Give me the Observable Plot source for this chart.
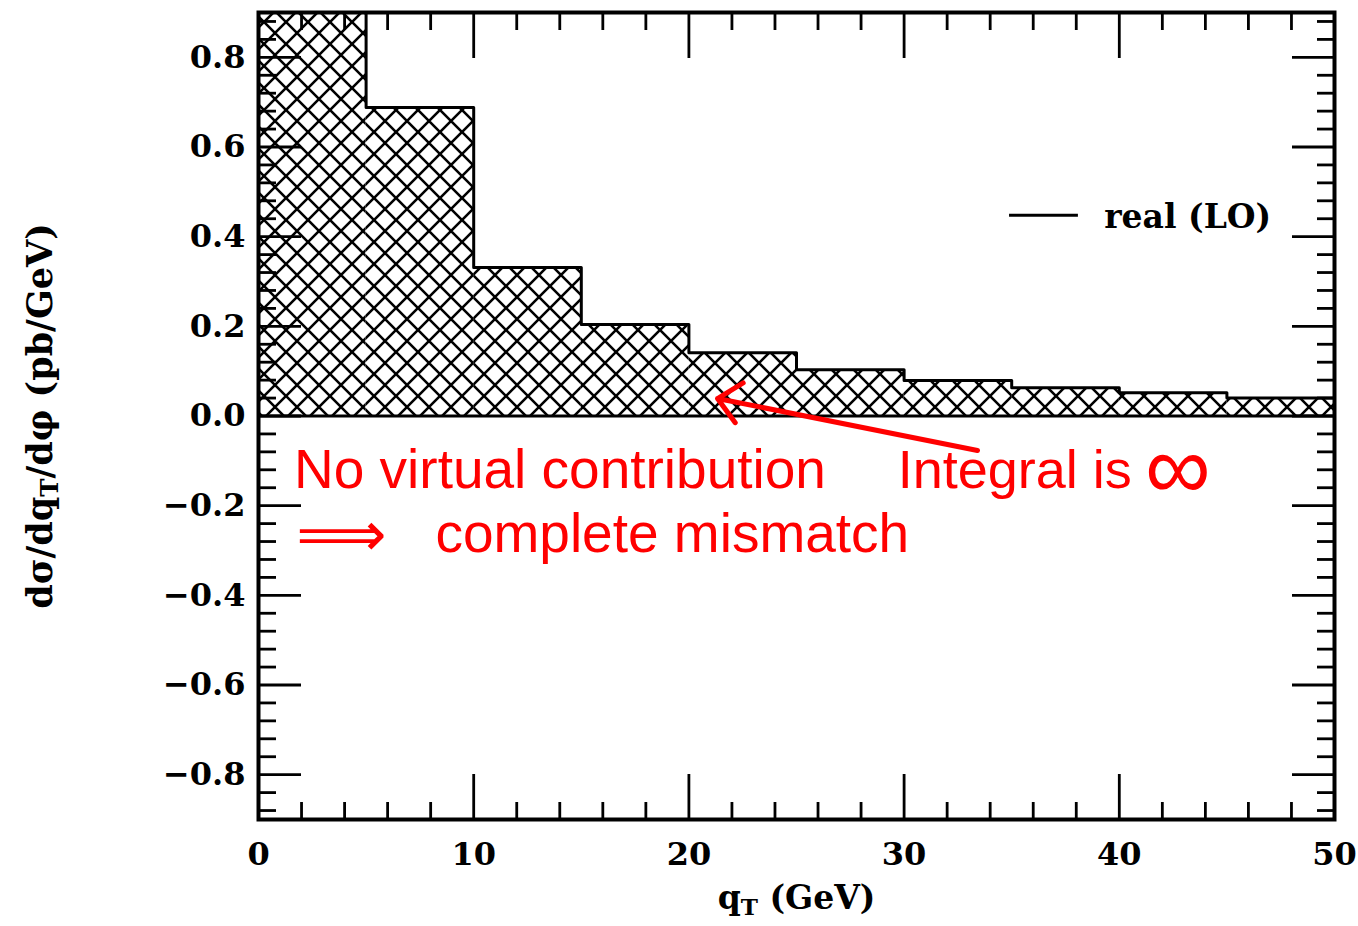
<!DOCTYPE html>
<html><head><meta charset="utf-8">
<script src="https://cdn.jsdelivr.net/npm/d3@7"></script>
<script src="https://cdn.jsdelivr.net/npm/@observablehq/plot@0.6"></script>
<style>html,body{margin:0;padding:0;background:#fff;} #chart svg{display:block}</style>
</head><body><div id="chart"></div>
<script>
// ---- data ----
const binStart = [0, 5, 10, 15, 20, 25, 30, 35, 40, 45];
const binWidth = 5;
const realLO = [1.10, 0.688, 0.331, 0.204, 0.141, 0.103, 0.079, 0.063, 0.052, 0.040];
const xMajorTicks = [0, 10, 20, 30, 40, 50];
const yMajorTicks = [-0.8, -0.6, -0.4, -0.2, 0.0, 0.2, 0.4, 0.6, 0.8];
const xMinorTicks = d3.range(0, 26).map(k => k * 2).filter(v => v % 10 !== 0);
const yMinorTicks = d3.range(-22, 23).filter(k => k % 5 !== 0).map(k => +(k * 0.04).toFixed(2));
const legendLabel = "real (LO)";
const xLabel = "qT (GeV)";
const yLabel = "dσ/dqT/dφ (pb/GeV)";
const noteLines = ["No virtual contribution", "Integral is", "∞", "⟹", "complete mismatch"];

const bins = binStart.map((x, i) => ({x1: x, x2: x + binWidth, y0: 0, y: realLO[i]}));
// step outline: each bin's top, closed by the right edge of the last bin
const outline = bins.map(b => ({x: b.x1, y: b.y})).concat([{x: bins[bins.length - 1].x2, y: bins[bins.length - 1].y}]);

const serif = "'DejaVu Serif', serif";
const sans = "'Liberation Sans', Arial, Helvetica, sans-serif";
const math = "'DejaVu Sans', sans-serif";
const red = "#ff0000";

const notes = [
  {x: 1.65, y: -0.122, text: noteLines[0], size: 55, font: sans, weight: 400},
  {x: 29.7, y: -0.122, text: noteLines[1], size: 54, font: sans, weight: 400},
  {x: 41.2, y: -0.119, text: noteLines[2], size: 92, font: math, weight: 200},
  {x: 1.75, y: -0.268, text: noteLines[3], size: 63, font: math, weight: 400},
  {x: 8.22, y: -0.264, text: noteLines[4], size: 55, font: sans, weight: 400}
];

const tickStyle = {tickFormat: () => "", label: null, strokeWidth: 2.8};

const chart = Plot.plot({
  width: 1358, height: 926,
  marginLeft: 258, marginRight: 24, marginTop: 12, marginBottom: 107,
  x: {domain: [0, 50]},
  y: {domain: [-0.9, 0.9]},
  style: {fontFamily: serif, fontWeight: "bold", fontSize: "31px", background: "#fff", color: "#000"},
  marks: [
    Plot.rect(bins, {x1: "x1", x2: "x2", y1: "y0", y2: "y", fill: "url(#xhatch)", clip: true}),
    Plot.line(outline, {x: "x", y: "y", curve: "step-after", stroke: "#000", strokeWidth: 3, clip: true}),
    Plot.ruleY([0], {x1: 0, x2: 50, stroke: "#000", strokeWidth: 3}),
    // inward ticks on all four sides
    Plot.axisX({...tickStyle, ticks: xMajorTicks, anchor: "bottom", tickSize: -45}),
    Plot.axisX({...tickStyle, ticks: xMinorTicks, anchor: "bottom", tickSize: -17}),
    Plot.axisX({...tickStyle, ticks: xMajorTicks, anchor: "top", tickSize: -45}),
    Plot.axisX({...tickStyle, ticks: xMinorTicks, anchor: "top", tickSize: -17}),
    Plot.axisY({...tickStyle, ticks: yMajorTicks, anchor: "left", tickSize: -43}),
    Plot.axisY({...tickStyle, ticks: yMinorTicks, anchor: "left", tickSize: -18}),
    Plot.axisY({...tickStyle, ticks: yMajorTicks, anchor: "right", tickSize: -43}),
    Plot.axisY({...tickStyle, ticks: yMinorTicks, anchor: "right", tickSize: -18}),
    // tick labels
    Plot.axisX({ticks: xMajorTicks, anchor: "bottom", tickSize: 0, tickPadding: 23, tickFormat: d3.format("d"), label: null, fontSize: 32}),
    Plot.axisY({ticks: yMajorTicks, anchor: "left", tickSize: 0, tickPadding: 13, tickFormat: d3.format(".1f"), label: null, fontSize: 32}),
    Plot.frame({stroke: "#000", strokeWidth: 4}),
    // axis titles
    Plot.text([xLabel], {frameAnchor: "bottom", dy: 89, text: d => d, fontSize: 33}),
    Plot.text([yLabel], {frameAnchor: "left", dx: -218, rotate: -90, textAnchor: "middle", text: d => d, fontSize: 35}),
    // legend
    Plot.ruleY([0.4475], {x1: 34.9, x2: 38.1, stroke: "#000", strokeWidth: 3}),
    Plot.text([legendLabel], {x: 39.3, y: 0.442, text: d => d, textAnchor: "start", fontSize: 33}),
    // red annotations
    Plot.arrow([{x1: 33.41, y1: -0.077, x2: 21.33, y2: 0.039}], {x1: "x1", y1: "y1", x2: "x2", y2: "y2", stroke: red, strokeWidth: 5, headLength: 9, headAngle: 85}),
    Plot.text(notes, {x: "x", y: "y", text: "text", fontSize: "size", textAnchor: "start", fill: red, fontWeight: "normal", fontFamily: sans})
  ]
});

// per-note font family/weight (Liberation Sans lacks some math glyphs)
d3.select(chart).selectAll("text")
  .filter(function() { return notes.some(d => d.text === this.textContent); })
  .each(function() {
    const n = notes.find(d => d.text === this.textContent);
    this.setAttribute("font-family", n.font);
    this.setAttribute("font-weight", n.weight);
  });

// hatch pattern definition
d3.select(chart).insert("defs", ":first-child").html(
  `<pattern id="xhatch" patternUnits="userSpaceOnUse" width="22" height="22">
     <rect width="22" height="22" fill="#fff"/>
     <path d="M-2,-2L24,24M24,-2L-2,24" stroke="#000" stroke-width="2.6" fill="none"/>
   </pattern>`);

// subscripts for qT
d3.select(chart).selectAll("text").each(function() {
  const t = this.textContent;
  if (t === xLabel || t === yLabel) {
    const i = t.indexOf("qT");
    const sel = d3.select(this);
    sel.text(null);
    sel.append("tspan").text(t.slice(0, i + 1));
    sel.append("tspan").attr("baseline-shift", "-25%").attr("font-size", "70%").text("T");
    sel.append("tspan").text(t.slice(i + 2));
  }
});

document.getElementById("chart").appendChild(chart);
</script>
</body></html>
